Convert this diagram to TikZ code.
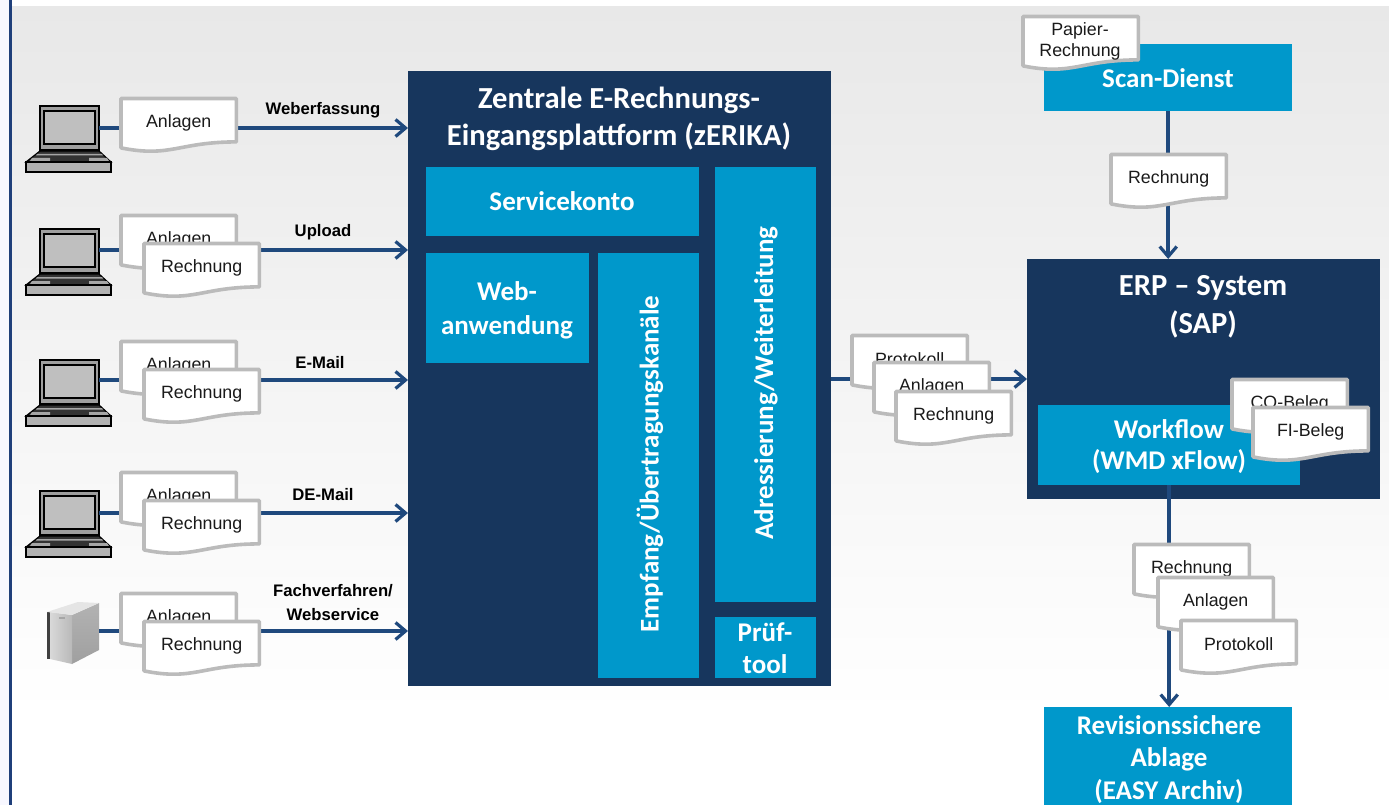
\documentclass[tikz,border=0pt]{standalone}
\usepackage{fontspec}
\setmainfont{Liberation Sans}
\newfontfamily\titlefont{Carlito}
\usetikzlibrary{arrows.meta}
\definecolor{navy}{HTML}{17365D}
\definecolor{cyanbox}{HTML}{0098CB}
\definecolor{connblue}{HTML}{1F497D}
\definecolor{docgray}{HTML}{BBBBBB}
\definecolor{doctxt}{HTML}{1A1A1A}
\definecolor{edgeline}{HTML}{1F3F7A}
\tikzset{
  panel/.style={fill=navy,draw=none,inner sep=0pt},
  tile/.style={fill=cyanbox,draw=none,inner sep=0pt},
  whitehead/.style 2 args={text=white,align=center,inner sep=0pt,font=\titlefont\bfseries\fontsize{#1}{#2}\selectfont},
  conn/.style={draw=connblue,line width=4pt},
  arr/.style={conn,-{Straight Barb[length=10pt,width=17pt,line width=3.2pt]}},
  docframe/.style={minimum width=115pt,minimum height=52pt,inner sep=0pt,draw=none},
  docline/.style={fill=white,draw=docgray,line width=3.6pt,line join=round},
  doctext/.style={text=doctxt,align=center,inner sep=0pt,font=\fontsize{17.8}{21}\selectfont},
  edgelabel/.style={text=black,align=center,inner sep=0pt,font=\bfseries\fontsize{16.7}{24}\selectfont},
}
\newcommand\docn[4]{%
  \node[docframe,anchor=north west] (#1) at (#2+1,#3+0.5) {};
  \path[docline] (#1.north west) -- (#1.north east) -- ([yshift=9pt]#1.south east)
    .. controls ([xshift=-58pt,yshift=9pt]#1.south east) and ([xshift=50pt,yshift=-7pt]#1.south west) .. ([yshift=3pt]#1.south west) -- cycle;
  \node[doctext] (#1t) at ([yshift=-24pt]#1.north) {#4};
}
\newcommand\laptop[2]{%
  \node[minimum width=85pt,minimum height=67pt,inner sep=0pt,anchor=north west] (#1) at (26,#2) {};
  \begin{scope}[shift={(0,#2-105)},line width=1.2pt,draw=black]
    \filldraw[fill=gray!75] (40,106) rectangle (99,150);
    \filldraw[fill=gray!50] (44,111) rectangle (95,144);
    \filldraw[fill=black!80] (40,151) -- (99,151) -- (111,162) -- (26,162) -- cycle;
    \fill[gray!70] (37,154) -- (102,154) -- (103,155.5) -- (36,155.5) -- cycle;
    \fill[gray!70] (32,158) -- (50,158) -- (50,161) -- (30,161) -- cycle;
    \fill[gray!70] (89,158) -- (107,158) -- (109,161) -- (89,161) -- cycle;
    \filldraw[fill=gray!60] (26,162) rectangle (111,172);
  \end{scope}
}
\begin{document}
\begin{tikzpicture}[x=1pt,y=-1pt]
\useasboundingbox (0,0) rectangle (1389,805);
% backdrop
\fill[white] (0,0) rectangle (1389,805);
\fill[blue!3!white] (0,0) rectangle (9,805);
\shade[top color=black!9,bottom color=white] (11,7) rectangle (1389,715);
\fill[edgeline] (9,0) rectangle (11.5,805);
% main blocks
\node[panel,minimum width=423pt,minimum height=615pt,anchor=north west] (plat) at (408,71) {};
\node[whitehead={30.6}{37}] (plattitle) at (619,119) {Zentrale E-Rechnungs-\\Eingangsplattform (zERIKA)};
\node[tile,minimum width=273pt,minimum height=69pt,anchor=north west] (konto) at (426,167) {};
\node[whitehead={27}{34}] at (562,201) {Servicekonto};
\node[tile,minimum width=163pt,minimum height=110pt,anchor=north west] (web) at (426,253) {};
\node[whitehead={27}{34}] at (507,310) {Web-\\anwendung};
\node[tile,minimum width=101pt,minimum height=425pt,anchor=north west] (empf) at (598,253) {};
\node[whitehead={27}{34},rotate=90] at (650,464) {Empfang/Übertragungskanäle};
\node[tile,minimum width=101pt,minimum height=435pt,anchor=north west] (adr) at (715,167) {};
\node[whitehead={27}{34},rotate=90] at (766,383) {Adressierung/Weiterleitung};
\node[tile,minimum width=101pt,minimum height=61pt,anchor=north west] (pruef) at (715,617) {};
\node[whitehead={27}{32}] at (765,648) {Prüf-\\tool};
\node[tile,minimum width=248pt,minimum height=67pt,anchor=north west] (scan) at (1044,44) {};
\node[whitehead={27}{34}] at (1168,78) {Scan-Dienst};
\node[panel,minimum width=353pt,minimum height=240pt,anchor=north west] (erp) at (1027,259) {};
\node[whitehead={30.6}{38}] at (1203,307) {ERP – System\\(SAP)};
\node[tile,minimum width=262pt,minimum height=80pt,anchor=north west] (wf) at (1038,405) {};
\node[whitehead={27}{31}] at (1169,447) {Workflow\\(WMD xFlow)};
\node[tile,minimum width=248pt,minimum height=98pt,anchor=north west] (rev) at (1044,707) {};
\node[whitehead={27}{32.5}] at (1169,759.5) {Revisionssichere\\Ablage\\(EASY Archiv)};
% sources
\laptop{lapa}{105}
\laptop{lapb}{228}
\laptop{lapc}{359}
\laptop{lapd}{490}
\node[minimum width=52pt,minimum height=63pt,inner sep=0pt,anchor=north west] (srv) at (47,602) {};
\shade[left color=gray!60,right color=gray!75,shading angle=0] (72,615) -- (99,603) -- (99,650) -- (72,664) -- cycle;
\shade[left color=gray!30,right color=gray!55] (50,612) -- (72,615) -- (72,664) -- (50,659) -- cycle;
\fill[black!75] (47,612) -- (50,612) -- (50,659) -- (47,659) -- cycle;
\fill[gray!20] (47,612) -- (78,602) -- (99,603) -- (72,615) -- cycle;
\fill[gray!70] (59,617) rectangle (65,619);
% connectors
\coordinate (outa) at (99,128);
\coordinate (outb) at (99,250);
\coordinate (outc) at (99,380);
\coordinate (outd) at (99,513);
\coordinate (oute) at (99,631);
\coordinate (midout) at (831,379);
\draw[arr] (outa) -- (plat.west |- outa);
\draw[arr] (outb) -- (plat.west |- outb);
\draw[arr] (outc) -- (plat.west |- outc);
\draw[arr] (outd) -- (plat.west |- outd);
\draw[arr] (oute) -- (plat.west |- oute);
\draw[arr] (midout) -- (erp.west |- midout);
\draw[arr] (scan.south) -- (scan.south |- erp.north);
\draw[arr] (wf.south) -- (wf.south |- rev.north);
% edge labels
\node[edgelabel] (la) at (323,110) {Weberfassung};
\node[edgelabel] (lb) at (323,232) {Upload};
\node[edgelabel] (lc) at (320,363) {E-Mail};
\node[edgelabel] (ld) at (323,495) {DE-Mail};
\node[edgelabel] (le) at (333,603) {Fachverfahren/\\Webservice};
% documents
\docn{da}{120}{98}{Anlagen}
\docn{db}{120}{215}{Anlagen}
\docn{dc}{143}{243}{Rechnung}
\docn{dd}{120}{341}{Anlagen}
\docn{de}{143}{369}{Rechnung}
\docn{df}{120}{472}{Anlagen}
\docn{dg}{143}{500}{Rechnung}
\docn{dh}{120}{593}{Anlagen}
\docn{di}{143}{621}{Rechnung}
\docn{dj}{851}{335}{Protokoll}
\docn{dk}{873}{362}{Anlagen}
\docn{dl}{895}{391}{Rechnung}
\docn{dm}{1022}{16}{}
\node[doctext] (dmtext) at (1080,41) {Papier-\\Rechnung};
\docn{dn}{1110}{154}{Rechnung}
\docn{dp}{1231}{379}{CO-Beleg}
\docn{dq}{1252}{407}{FI-Beleg}
\docn{dr}{1133}{544}{Rechnung}
\docn{ds}{1157}{577}{Anlagen}
\docn{dt}{1180}{620}{Protokoll}
\end{tikzpicture}
\end{document}
